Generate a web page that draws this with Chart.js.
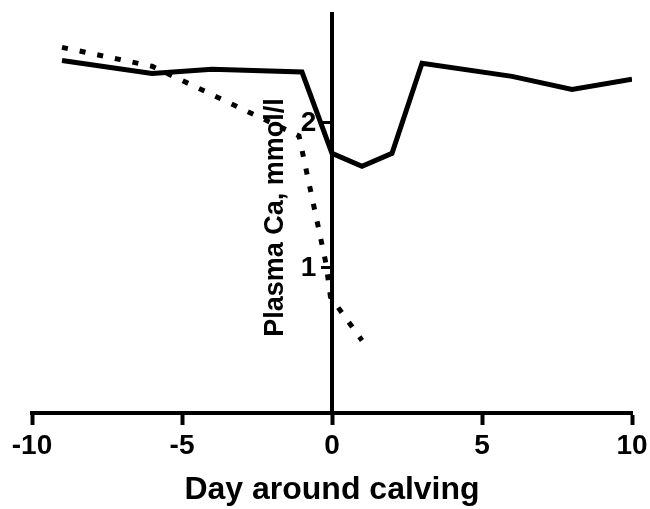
<!DOCTYPE html>
<html lang="en">
<head>
  <meta charset="UTF-8" />
  <title>Plasma Ca around calving</title>
  <script src="https://cdn.jsdelivr.net/npm/chart.js"></script>
  <style>
    body {
      margin: 0;
      background: #ffffff;
    }
    .wrap {
      width: 650px;
      height: 509px;
    }
  </style>
</head>
<body>
  <div class="wrap"><canvas id="caChart"></canvas></div>

  <script>
    // days around calving and plasma Ca (mmol/l)
    const solidDays = [-9, -6, -4, -1, 0, 1, 2, 3, 6, 8, 10];
    const solidCa = [2.43, 2.34, 2.37, 2.35, 1.79, 1.70, 1.79, 2.41, 2.32, 2.23, 2.30];

    const dottedDays = [-9, -6, -1.1, -0.2, -0.05, 1];
    const dottedCa = [2.52, 2.39, 1.91, 1.03, 0.80, 0.50];

    const xTicks = [-10, -5, 0, 5, 10];
    const yTicks = [1, 2];

    const yTitle = 'Plasma Ca, mmol/l';

    const toPoints = (xs, ys) => xs.map((x, i) => ({ x: x, y: ys[i] }));

    const fontFamily = "'Liberation Sans', Arial, sans-serif";

    // the y axis sits at day 0, so its title is drawn by hand just left of the labels
    const yTitlePlugin = {
      id: 'yTitle',
      afterDraw(chart) {
        const c = chart.ctx;
        const area = chart.chartArea;
        const axisX = chart.scales.x.getPixelForValue(0);
        c.save();
        c.translate(axisX - 49, (area.top + area.bottom) / 2 + 4);
        c.rotate(-Math.PI / 2);
        c.font = 'bold 27px ' + fontFamily;
        c.fillStyle = '#000';
        c.textAlign = 'center';
        c.textBaseline = 'alphabetic';
        c.fillText(yTitle, 0, 0);
        c.restore();
      }
    };

    const ctx = document.getElementById('caChart').getContext('2d');

    new Chart(ctx, {
      type: 'scatter',
      data: {
        datasets: [
          {
            label: 'solid',
            data: toPoints(solidDays, solidCa),
            showLine: true,
            borderColor: '#000',
            borderWidth: 5,
            pointRadius: 0,
            borderJoinStyle: 'miter',
            tension: 0
          },
          {
            label: 'dotted',
            data: toPoints(dottedDays, dottedCa),
            showLine: true,
            borderColor: '#000',
            borderWidth: 5,
            borderDash: [6, 12],
            pointRadius: 0,
            tension: 0
          }
        ]
      },
      plugins: [yTitlePlugin],
      options: {
        responsive: true,
        maintainAspectRatio: false,
        animation: false,
        layout: {
          padding: { top: 14, left: 32, right: 18, bottom: 0 }
        },
        plugins: {
          legend: { display: false },
          tooltip: { enabled: false }
        },
        scales: {
          x: {
            type: 'linear',
            min: -10,
            max: 10,
            afterBuildTicks: scale => {
              scale.ticks = xTicks.map(v => ({ value: v }));
            },
            afterFit: scale => {
              scale.paddingLeft = 0;
              scale.paddingRight = 0;
            },
            ticks: {
              color: '#000',
              padding: 4,
              maxRotation: 0,
              font: { family: fontFamily, size: 28, weight: 'bold' }
            },
            grid: {
              drawOnChartArea: false,
              drawTicks: true,
              tickLength: 12,
              tickWidth: 4,
              tickColor: '#000'
            },
            border: { display: true, color: '#000', width: 4 },
            title: {
              display: true,
              text: 'Day around calving',
              color: '#000',
              padding: { top: 4, bottom: 0 },
              font: { family: fontFamily, size: 32, weight: 'bold' }
            }
          },
          y: {
            type: 'linear',
            min: 0,
            max: 2.75,
            position: { x: 0 },
            afterBuildTicks: scale => {
              scale.ticks = yTicks.map(v => ({ value: v }));
            },
            afterFit: scale => {
              scale.paddingTop = 0;
              scale.paddingBottom = 0;
            },
            ticks: {
              color: '#000',
              font: { family: fontFamily, size: 28, weight: 'bold' },
              // labels are right-aligned on the axis line; pad them clear of the tick marks
              callback: value => value + '  '
            },
            grid: {
              drawOnChartArea: false,
              drawTicks: true,
              tickLength: 9,
              tickWidth: 3,
              tickColor: '#000'
            },
            border: { display: true, color: '#000', width: 4 },
            title: { display: false }
          }
        }
      }
    });
  </script>
</body>
</html>
